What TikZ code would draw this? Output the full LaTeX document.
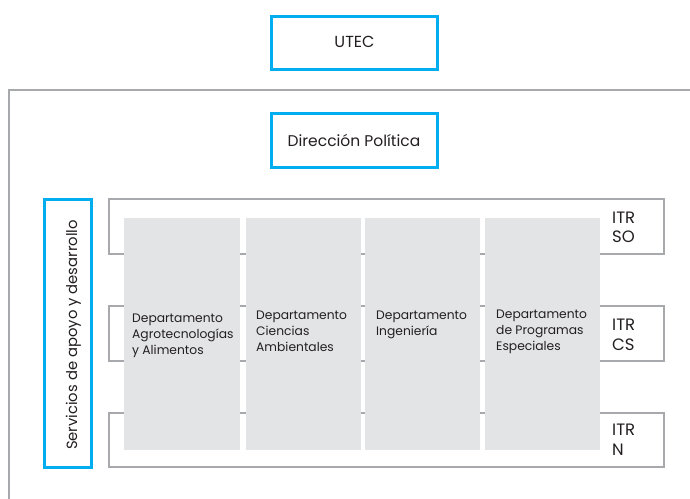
\documentclass[tikz,border=0pt]{standalone}
\usepackage{fontspec}
\setmainfont{Poppins}
\definecolor{ublue}{HTML}{00AEEF}
\definecolor{ugray}{HTML}{A7A9AC}
\definecolor{ufill}{HTML}{E3E4E5}
\definecolor{utext}{HTML}{231F20}
\begin{document}
\begin{tikzpicture}[x=1pt,y=-1pt,
  bluebox/.style={draw=ublue,line width=3pt,fill=white,inner sep=0pt},
  lbl/.style={anchor=base,text=utext,inner sep=0pt},
  frame/.style={draw=ugray,line width=2.5pt},
  dept/.style={fill=ufill,draw=none,anchor=north west,inner sep=0pt},
  dtext/.style={anchor=base west,align=left,text=utext,font=\fontsize{12.3}{16}\selectfont,inner sep=0pt},
  itr/.style={anchor=base west,align=left,text=utext,font=\fontsize{16.5}{19.5}\selectfont,inner sep=0pt}]
\useasboundingbox (0,0) rectangle (690,498);
% outer frame
\coordinate (ob) at (9,500);
\coordinate (otl) at (9,90);
\coordinate (otr) at (692,90);
\draw[frame] (ob) -- (otl) -- (otr);
\node[bluebox,minimum width=166pt,minimum height=53pt] (utec) at (354,42.5) {};
\node[lbl,font=\fontsize{16}{18}\selectfont] (utect) at (354.5,47.3) {UTEC};
\node[bluebox,minimum width=166pt,minimum height=54pt] (dir) at (354,140) {};
\node[lbl,font=\fontsize{15.5}{18}\selectfont] (dirt) at (354,146.5) {Dirección Política};
\node[bluebox,minimum width=47pt,minimum height=268pt] (serv) at (68,333) {};
\node[lbl,rotate=90,font=\fontsize{14.8}{18}\selectfont] (servt) at (77,335) {Servicios de apoyo y desarrollo};
% ITR frames
\draw[frame] (109,199) rectangle (664,254);
\draw[frame] (109,306) rectangle (664,361);
\draw[frame] (109,413) rectangle (664,467);
% departments
\node[dept,minimum width=116pt,minimum height=232pt] (d1) at (124,218) {};
\node[dept,minimum width=115pt,minimum height=232pt] (d2) at (246,218) {};
\node[dept,minimum width=115pt,minimum height=232pt] (d3) at (365,218) {};
\node[dept,minimum width=115pt,minimum height=232pt] (d4) at (485,218) {};
\node[dtext] (d1t) at (132,354) {Departamento\\Agrotecnologías\\y Alimentos};
\node[dtext] (d2t) at (256,351) {Departamento\\Ciencias\\Ambientales};
\node[dtext] (d3t) at (376,335) {Departamento\\Ingeniería};
\node[dtext] (d4t) at (496,350) {Departamento\\de Programas\\Especiales};
\node[itr] (so) at (612,242.5) {ITR\\SO};
\node[itr] (cs) at (612,350) {ITR\\CS};
\node[itr] (n) at (612,455) {ITR\\N};
\end{tikzpicture}
\end{document}
